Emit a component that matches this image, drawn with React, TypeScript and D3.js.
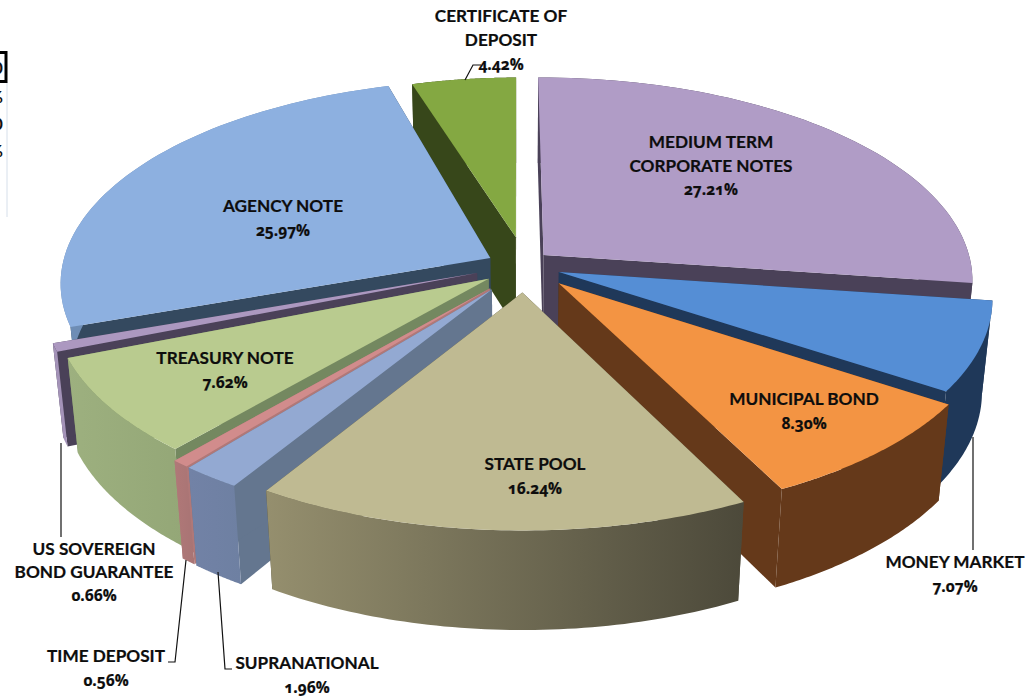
import React from "react";
import * as d3 from "d3";

// ---- data ----
const categories = [
  "MEDIUM TERM CORPORATE NOTES", "MONEY MARKET", "MUNICIPAL BOND", "STATE POOL", "SUPRANATIONAL",
  "TIME DEPOSIT", "TREASURY NOTE", "US SOVEREIGN BOND GUARANTEE", "AGENCY NOTE", "CERTIFICATE OF DEPOSIT",
];
const values = [27.21, 7.07, 8.3, 16.24, 1.96, 0.56, 7.62, 0.66, 25.97, 4.42];
const labelLines = [
  ["MEDIUM TERM", "CORPORATE NOTES", "27.21%"], ["MONEY MARKET", "7.07%"], ["MUNICIPAL BOND", "8.30%"],
  ["STATE POOL", "16.24%"], ["SUPRANATIONAL", "1.96%"], ["TIME DEPOSIT", "0.56%"], ["TREASURY NOTE", "7.62%"],
  ["US SOVEREIGN", "BOND GUARANTEE", "0.66%"], ["AGENCY NOTE", "25.97%"], ["CERTIFICATE OF", "DEPOSIT", "4.42%"],
];

// ---- styling / layout ----
const explodeX = [0.06, 0.095, 0.094, 0.01, -0.06, -0.065, -0.068, -0.095, -0.065, -0.005];
const explodeY = [-0.05, 0.035, 0.09, 0.135, 0.12, 0.115, 0.068, 0.04, -0.035, -0.14];
const radiusScale = [1, 1, 1, 1.005, 1, 1, 1, 1, 1, 0.91];
const startNudgeDeg = [-0.4, 0, 0, 0, 0, 0, 0, 0, 0, -1.5];
const topColors = ["#B09CC6", "#558ED5", "#F39443", "#BFBA92", "#93A9D2", "#D18C8C", "#B9CB8F", "#AC98C0", "#8DB0E0", "#84A842"];
const cutColors = ["#4A4158", "#1F3859", "#65391A", "#4E4B3B", "#64768F", "#B07878", "#748860", "#4A4158", "#34495F", "#37471A"];
const sideA = ["#4A4158", "#1F3859", "#65391A", "#958F6E", "#7282A6", "#B07878", "#9DB07F", "#A493B8", "#6E8DB5", "#37471A"];
const sideB = ["#4A4158", "#1F3859", "#65391A", "#4C493A", "#6E80A2", "#A87474", "#94A777", "#A493B8", "#6E8DB5", "#37471A"];
const paintOrder = [0, 9, 8, 7, 6, 5, 4, 1, 2, 3];
const labelX = [711, 955, 804, 535, 307, 106, 225, 94, 283, 501];
const labelY = [142, 562, 399, 464, 663, 656, 358, 549, 206, 16];
const labelGap = [23.5, 24, 24, 23.5, 24, 23.5, 23.5, 23, 24, 24];
const leaders: [number, number][][] = [
  [[465, 80], [473, 65], [481, 65]],
  [[973, 437], [973, 550]],
  [[61, 443], [61, 537]],
  [[186, 560], [175, 662], [168, 662]],
  [[218, 572], [225, 669], [232, 669]],
];
const cx = 518, cy = 265, A = 428, B = 201, P = 0.12, H = 94, Q = 0.022;
const fontFamily = "Lato, 'Open Sans', sans-serif";
const numberFont = "'Open Sans', Lato, sans-serif";

const project = (X: number, Y: number, Z: number): [number, number] => {
  const w = 1 - P * Y + Q * Z;
  return [cx + (A * X) / w, cy + (B * Y + H * Z) / w];
};
const linePath = d3.line<[number, number]>();

export default function App() {
  const arcs = d3.pie<number>().sort(null).startAngle(0).endAngle(2 * Math.PI)(values);
  return (
    <svg width={1035} height={698} style={{ position: "absolute", left: 0, top: 0, background: "#fff" }}>
      <defs>
        {values.map((_, i) => (
          <linearGradient key={i} id={`side${i}`} gradientUnits="objectBoundingBox" x1="0" x2="1" y1="0" y2="0">
            <stop offset="0" stopColor={sideA[i]} />
            <stop offset="1" stopColor={sideB[i]} />
          </linearGradient>
        ))}
      </defs>
      {/* clipped fragment at the left edge */}
      <line x1={7} x2={7} y1={82} y2={217} stroke="#D6DFEA" strokeWidth={1} />
      <rect x={-6} y={52.5} width={12} height={29} fill="#fff" stroke="#000" strokeWidth={3} />
      {[["0", -7, 74], ["%", -11, 103], ["0", -7, 130], ["%", -11, 157]].map(([t, x, y], i) => (
        <text key={i} x={x as number} y={y as number} fontFamily={fontFamily} fontWeight={700} fontSize={17} fill="#111">{t}</text>
      ))}
      {paintOrder.map((i) => {
        const a = arcs[i];
        const ex = explodeX[i], ey = explodeY[i], rs = radiusScale[i];
        const a0 = a.startAngle + (startNudgeDeg[i] * Math.PI) / 180;
        const rim = d3.range(0, 61).map((k) => a0 + ((a.endAngle - a0) * k) / 60);
        const pt = (t: number, z: number, r = rs) => project(r * Math.sin(t) + ex, -r * Math.cos(t) + ey, z);
        const apexT = pt(0, 0, 0), apexB = pt(0, 1, 0);
        const rimT = rim.map((t) => pt(t, 0));
        const rimB = rim.map((t) => pt(t, 1));
        const cut = (t: number) => linePath([apexT, pt(t, 0), pt(t, 1), apexB])! + "Z";
        return (
          <g key={categories[i]}>
            <path d={cut(a0)} fill={cutColors[i]} />
            <path d={cut(a.endAngle)} fill={cutColors[i]} />
            <path d={linePath([...rimT, ...rimB.slice().reverse()])! + "Z"} fill={`url(#side${i})`} />
            <path d={linePath([apexT, ...rimT])! + "Z"} fill={topColors[i]} />
          </g>
        );
      })}
      {leaders.map((l, i) => (
        <path key={i} d={linePath(l)!} fill="none" stroke="#111" strokeWidth={1.2} />
      ))}
      {labelLines.map((lines, i) => (
        <text key={i} textAnchor="middle" fontFamily={fontFamily} fontWeight={700} fontSize={17.2} fill="#0d0d0d"
          stroke="#0d0d0d" strokeWidth={0.2}>
          {lines.map((s, j) => {
            const isNum = j === lines.length - 1;
            return (
              <tspan key={j} x={labelX[i]} y={labelY[i] + 6 + j * labelGap[i]}
                fontFamily={isNum ? numberFont : fontFamily} fontSize={isNum ? 15.5 : 17.2}
                style={isNum ? { fontVariantNumeric: "oldstyle-nums" } : undefined}>{s}</tspan>
            );
          })}
        </text>
      ))}
    </svg>
  );
}
